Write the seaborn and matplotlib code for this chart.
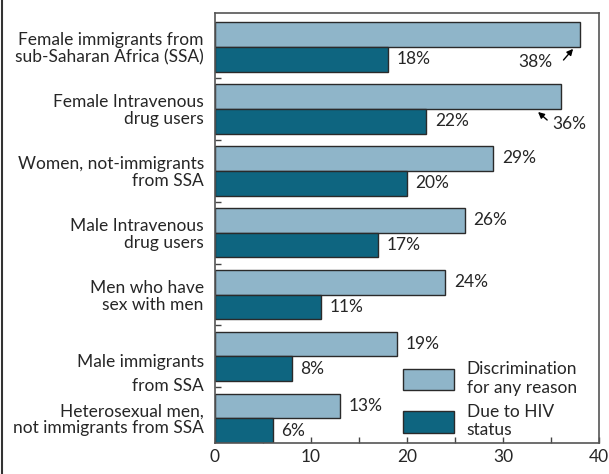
import matplotlib
matplotlib.use("Agg")
import matplotlib.pyplot as plt
from matplotlib.lines import Line2D
from matplotlib.ticker import MultipleLocator
from matplotlib.transforms import ScaledTranslation
import pandas as pd
import seaborn as sns

# Données
groupes = [
    "Female immigrants from\nsub-Saharan Africa (SSA)",
    "Female Intravenous\ndrug users",
    "Women, not-immigrants\nfrom SSA",
    "Male Intravenous\ndrug users",
    "Men who have\nsex with men",
    "Male immigrants\nfrom SSA",
    "Heterosexual men,\nnot immigrants from SSA",
]
series = ["Discrimination\nfor any reason", "Due to HIV\nstatus"]
any_reason = [38, 36, 29, 26, 24, 19, 13]
hiv_status = [18, 22, 20, 17, 11, 8, 6]
couleurs = ["#8fb5c9", "#0e6580"]

df = pd.DataFrame({
    "groupe": groupes * 2,
    "serie": [series[0]] * len(groupes) + [series[1]] * len(groupes),
    "valeur": any_reason + hiv_status,
})

sns.set_style("white")
plt.rcParams["font.family"] = ["Lato", "DejaVu Sans"]
fs = 12.5

fig = plt.figure(figsize=(6.09, 4.74), dpi=100)
ax = fig.add_axes([0.353, 0.0654, 0.6306, 0.9072])

sns.barplot(data=df, y="groupe", x="valeur", hue="serie", palette=couleurs,
            order=groupes, hue_order=series, orient="h", width=0.8,
            saturation=1, edgecolor="#2a2a2a", linewidth=1.0, ax=ax,
            errorbar=None)

ax.set_xlim(0, 40)
ax.set_ylim(6.4, -0.55)
ax.set_xlabel("")
ax.set_ylabel("")

# Ticks
ax.xaxis.set_major_locator(MultipleLocator(10))
ax.xaxis.set_minor_locator(MultipleLocator(5))
ax.tick_params(axis="x", which="both", direction="in", length=4, width=1,
               color="#444444", labelsize=fs, pad=4, bottom=True)
ax.set_yticks(range(len(groupes)))
ax.set_yticklabels(groupes, fontsize=fs, linespacing=1.05)
ax.set_yticks([i + 0.5 for i in range(len(groupes) - 1)], minor=True)
ax.tick_params(axis="y", which="major", length=0, pad=8)
ax.tick_params(axis="y", which="minor", direction="in", length=4, width=1,
               color="#444444", left=True)
for s in ax.spines.values():
    s.set_color("#555555")
    s.set_linewidth(1.2)

# "Male immigrants / from SSA" : lignes plus espacées et plus bas
lab = ax.get_yticklabels()[5]
lab.set_linespacing(1.55)
lab.set_transform(lab.get_transform() + ScaledTranslation(0, -9 / 72, fig.dpi_scale_trans))

# Étiquettes des valeurs
for i, (a, h) in enumerate(zip(any_reason, hiv_status)):
    ax.text(h + 0.9, i + 0.2, f"{h}%", va="center", ha="left", fontsize=fs)
    if i >= 2:
        ax.text(a + 0.9, i - 0.2, f"{a}%", va="center", ha="left", fontsize=fs)

# 38% et 36% avec flèches
fleche = dict(arrowstyle="-|>", color="black", lw=1, mutation_scale=9,
              shrinkA=0, shrinkB=0)
ax.text(35.2, 0.24, f"{any_reason[0]}%", ha="right", va="center", fontsize=fs)
ax.annotate("", xy=(37.3, 0.03), xytext=(36.3, 0.21), arrowprops=fleche)
ax.text(35.1, 1.24, f"{any_reason[1]}%", ha="left", va="center", fontsize=fs)
ax.annotate("", xy=(33.65, 1.05), xytext=(34.6, 1.18), arrowprops=fleche)

ax.legend(loc="upper left", bbox_to_anchor=(0.49, 0.19), frameon=False,
          fontsize=fs, handlelength=2.95, handleheight=1.55,
          borderpad=0, borderaxespad=0, handletextpad=0.7, labelspacing=0.45)

fig.add_artist(Line2D([0.004, 0.004], [0, 1], color="#333333", lw=1.5))

fig.savefig("out.png", dpi=100)
